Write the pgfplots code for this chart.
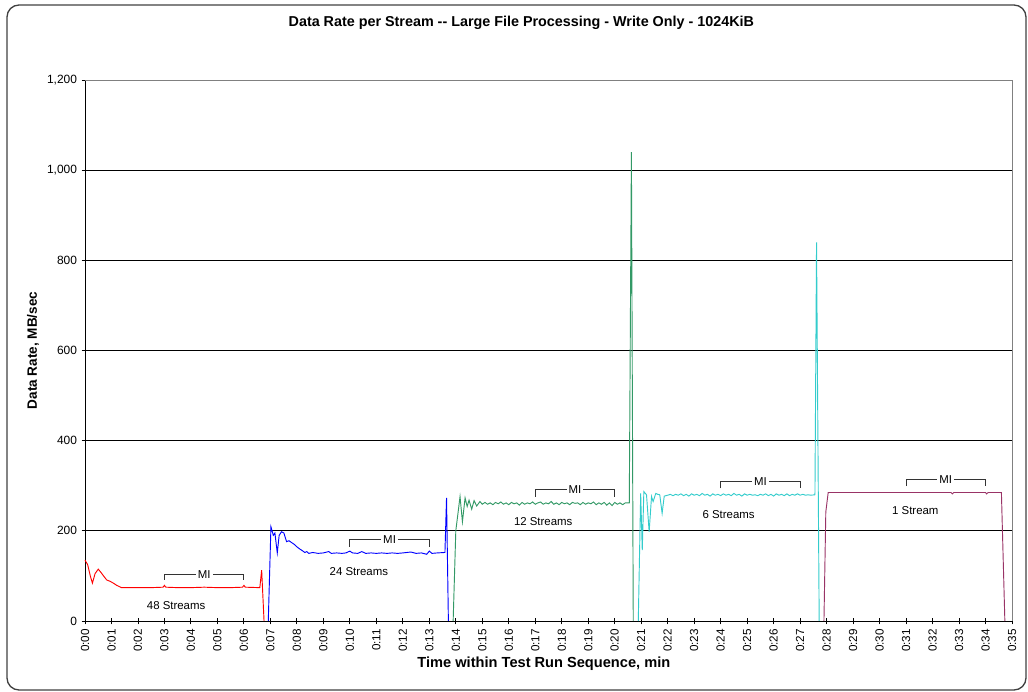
\documentclass[border=0pt]{standalone}
\usepackage{pgfplots}
\pgfplotsset{compat=1.18}
\usepackage{fontspec}
\setmainfont{Liberation Sans}

\definecolor{sRed}{RGB}{255,0,0}
\definecolor{sBlue}{RGB}{0,0,255}
\definecolor{sGreen}{RGB}{51,153,102}
\definecolor{sCyan}{RGB}{51,204,204}
\definecolor{sPurple}{RGB}{153,51,102}

\begin{document}
\begin{tikzpicture}
\useasboundingbox (0,0) rectangle (771bp,519bp);
\draw[rounded corners=9bp, line width=1bp, black!75] (5.25bp,1.5bp) rectangle (769.5bp,515.25bp);
\begin{axis}[
    at={(63.75bp,53.25bp)}, anchor=south west,
    scale only axis,
    width=695.25bp, height=405.75bp,
    xmin=0, xmax=35, ymin=0, ymax=1200,
    axis x line*=bottom, axis y line*=left,
    axis line style={black, line width=0.7pt},
    xtick={0,1,...,35},
    xticklabels={0:00,0:01,0:02,0:03,0:04,0:05,0:06,0:07,0:08,0:09,0:10,0:11,0:12,0:13,0:14,0:15,0:16,0:17,0:18,0:19,0:20,0:21,0:22,0:23,0:24,0:25,0:26,0:27,0:28,0:29,0:30,0:31,0:32,0:33,0:34,0:35},
    xticklabel style={rotate=90, anchor=east, font=\fontsize{8.8}{10}\selectfont},
    ytick={0,200,...,1200},
    yticklabel style={font=\fontsize{9}{10}\selectfont},
    /pgf/number format/assume math mode=true,
    /pgf/number format/1000 sep={,},
    scaled y ticks=false,
    tick align=center,
    major tick length=5bp,
    tick style={black, line width=0.7pt},
    ymajorgrids,
    grid style={black, line width=0.6pt},
    clip=false,
    every axis plot/.append style={line width=0.7pt},
    xlabel={Time within Test Run Sequence, min},
    xlabel style={font=\bfseries\fontsize{11}{12}\selectfont, at={(axis description cs:0.495,-0.0795)}, anchor=center},
    ylabel={Data Rate, MB/sec},
    ylabel style={font=\bfseries\fontsize{10.2}{12}\selectfont, at={(axis description cs:-0.0561,0.5)}, anchor=center, rotate=0},
    title={Data Rate per Stream -{}- Large File Processing - Write Only - 1024KiB},
    title style={font=\bfseries\fontsize{10.8}{12}\selectfont, at={(axis description cs:0.4707,1.0906)}, anchor=center},
]
\draw[gray, line width=0.7pt] (rel axis cs:0,1) -- (rel axis cs:1,1) -- (rel axis cs:1,0);

% 48 streams
\addplot[sRed] coordinates {
(0,135) (0.1,125) (0.2,100) (0.28,84) (0.38,105) (0.5,115) (0.6,108) (0.7,100)
(0.82,91) (0.95,88) (1.07,84) (1.2,79) (1.38,74) (2,74) (2.5,74) (2.95,75)
(3.0,79) (3.05,75) (3.5,74) (4,74) (4.5,75) (5,74) (5.5,74) (5.95,75)
(6.0,79) (6.05,75) (6.6,74) (6.67,113) (6.76,0)};

% 24 streams
\addplot[sBlue] coordinates {
(6.92,0) (7.02,209) (7.11,190) (7.17,195) (7.26,151) (7.33,190) (7.42,198) (7.51,195)
(7.61,176) (7.7,178) (7.8,174) (7.9,170) (7.99,165) (8.1,160) (8.18,157) (8.3,152)
(8.37,154) (8.45,150) (8.6,152) (8.8,150) (9.0,151) (9.2,154) (9.3,150) (9.5,151)
(9.7,150) (9.85,151) (10.0,155) (10.1,151) (10.3,150) (10.45,154) (10.6,150) (10.8,151)
(11.0,150) (11.2,151) (11.4,150) (11.6,151) (11.8,150) (12.0,151) (12.3,153) (12.5,150)
(12.7,151) (12.9,148) (13.0,155) (13.1,150) (13.3,151) (13.59,152) (13.65,273) (13.72,0)};

% 12 streams
\addplot[sGreen] coordinates {
(13.9,0) (14.0,200) (14.16,276) (14.25,220) (14.35,273) (14.43,254) (14.5,268) (14.6,248)
(14.69,267) (14.79,255) (14.91,265) (15.0,259) (15.1,263) (15.2,259) (15.3,262) (15.4,258)
(15.5,263) (15.6,260) (15.7,264) (15.8,259) (15.9,262) (16.0,258) (16.1,263) (16.2,260)
(16.3,262) (16.4,257) (16.5,263) (16.6,259) (16.7,262) (16.8,260) (16.9,264) (17.0,259)
(17.1,262) (17.2,264) (17.3,259) (17.4,262) (17.5,260) (17.6,265) (17.7,259) (17.8,262)
(17.9,258) (18.0,263) (18.1,260) (18.2,262) (18.3,258) (18.4,263) (18.5,261) (18.6,262)
(18.7,258) (18.8,263) (18.9,259) (19.0,262) (19.1,260) (19.2,264) (19.3,258) (19.4,262)
(19.5,259) (19.6,263) (19.7,257) (19.8,262) (19.9,256) (20.0,263) (20.1,259) (20.2,262)
(20.3,258) (20.4,262) (20.55,262) (20.63,1040) (20.70,0)};

% 6 streams
\addplot[sCyan] coordinates {
(20.89,0) (20.98,283) (21.04,157) (21.1,287) (21.2,280) (21.3,198) (21.39,276) (21.45,265)
(21.55,283) (21.62,281) (21.7,280) (21.79,239) (21.87,277) (22.0,279) (22.1,281) (22.2,278)
(22.3,281) (22.4,279) (22.5,282) (22.6,278) (22.7,281) (22.8,277) (22.9,282) (23.0,279)
(23.1,281) (23.2,278) (23.3,283) (23.4,279) (23.5,281) (23.6,277) (23.7,282) (23.8,279)
(23.9,281) (24.0,278) (24.1,282) (24.2,279) (24.3,281) (24.4,278) (24.5,283) (24.6,279)
(24.7,281) (24.8,277) (24.9,282) (25.0,279) (25.1,281) (25.2,279) (25.3,280) (25.4,278)
(25.5,281) (25.6,279) (25.7,282) (25.8,278) (25.9,281) (26.0,277) (26.1,282) (26.2,279)
(26.3,281) (26.4,278) (26.5,282) (26.6,278) (26.7,281) (26.8,279) (26.9,282) (27.0,279)
(27.1,281) (27.2,279) (27.3,280) (27.4,279) (27.56,280) (27.62,840) (27.72,0)};

% 1 stream
\addplot[sPurple] coordinates {
(27.9,0) (27.97,242) (28.06,285) (29,285) (30,285) (31,285) (32,285) (32.7,285)
(32.75,282) (32.8,285) (34.0,285) (34.04,282) (34.1,285) (34.6,285) (34.73,0)};

% measurement interval brackets
\addplot[black!80, line width=0.8pt] coordinates {(3,91) (3,104) (6,104) (6,91)};
\addplot[black!80, line width=0.8pt] coordinates {(10,165) (10,180) (13,180) (13,165)};
\addplot[black!80, line width=0.8pt] coordinates {(17,276) (17,292) (20,292) (20,276)};
\addplot[black!80, line width=0.8pt] coordinates {(24,294) (24,309) (27,309) (27,294)};
\addplot[black!80, line width=0.8pt] coordinates {(31,299) (31,313) (34,313) (34,299)};

\begin{scope}[every node/.style={font=\fontsize{8.6}{10}\selectfont}]
\node[fill=white, inner sep=1.5bp] at (axis cs:4.5,104) {MI};
\node[fill=white, inner sep=1.5bp] at (axis cs:11.5,180) {MI};
\node[fill=white, inner sep=1.5bp] at (axis cs:18.5,292) {MI};
\node[fill=white, inner sep=1.5bp] at (axis cs:25.5,309) {MI};
\node[fill=white, inner sep=1.5bp] at (axis cs:32.5,313) {MI};
\node at (axis cs:3.44,34) {48 Streams};
\node at (axis cs:10.34,109) {24 Streams};
\node at (axis cs:17.3,220) {12 Streams};
\node at (axis cs:24.3,235) {6 Streams};
\node at (axis cs:31.35,244) {1 Stream};
\end{scope}
\end{axis}
\end{tikzpicture}
\end{document}
